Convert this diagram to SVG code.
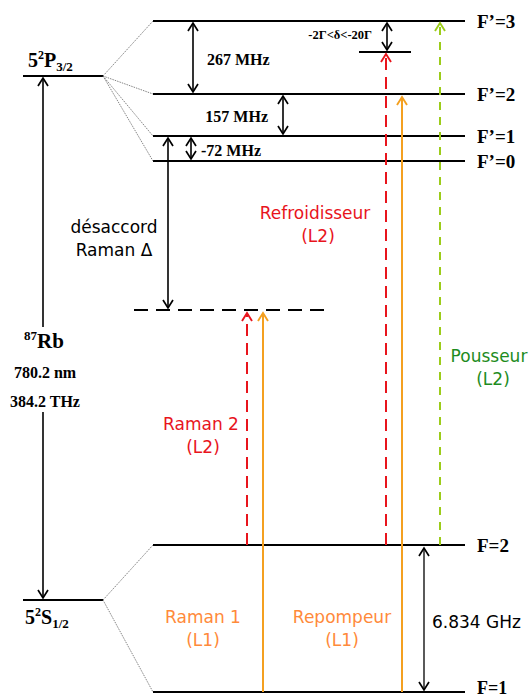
<svg xmlns="http://www.w3.org/2000/svg" width="532" height="699" viewBox="0 0 532 699">
<defs>
<marker id="ahK" viewBox="0 0 12 12" refX="10" refY="6" markerWidth="12" markerHeight="12" markerUnits="userSpaceOnUse" orient="auto-start-reverse">
<path d="M2,1 L10,6 L2,11" fill="none" stroke="#000" stroke-width="1.7"/>
</marker>
<marker id="ahR" viewBox="0 0 12 12" refX="10" refY="6" markerWidth="12" markerHeight="12" markerUnits="userSpaceOnUse" orient="auto">
<path d="M2,1 L10,6 L2,11" fill="none" stroke="#e8141c" stroke-width="1.9"/>
</marker>
<marker id="ahO" viewBox="0 0 12 12" refX="10" refY="6" markerWidth="12" markerHeight="12" markerUnits="userSpaceOnUse" orient="auto">
<path d="M2,1 L10,6 L2,11" fill="none" stroke="#f4a020" stroke-width="1.9"/>
</marker>
<marker id="ahG" viewBox="0 0 12 12" refX="10" refY="6" markerWidth="12" markerHeight="12" markerUnits="userSpaceOnUse" orient="auto">
<path d="M2,1 L10,6 L2,11" fill="none" stroke="#9ccc1a" stroke-width="1.9"/>
</marker>
</defs>
<style>
.lvl{stroke:#000;stroke-width:2;fill:none}
.dot{stroke:#666;stroke-width:0.8;stroke-dasharray:1.5 1;fill:none}
.ser{font-family:"Liberation Serif",serif;font-weight:bold;fill:#000}
.san{font-family:"DejaVu Sans",sans-serif;font-size:17px}
.arr{stroke:#000;stroke-width:1.6;fill:none;marker-start:url(#ahK);marker-end:url(#ahK)}
</style>
<rect width="532" height="699" fill="#fff"/>

<g id="levels">
<g id="lvl-P"><line class="lvl" x1="23" y1="76" x2="103" y2="76"/><text class="ser" x="28" y="67" font-size="20">5<tspan font-size="12" dy="-8">2</tspan><tspan dy="8">P</tspan><tspan font-size="13" dy="4">3/2</tspan></text></g>
<g id="lvl-S"><line class="lvl" x1="23" y1="600" x2="103" y2="600"/><text class="ser" x="25" y="624" font-size="20">5<tspan font-size="12" dy="-8">2</tspan><tspan dy="8">S</tspan><tspan font-size="13" dy="4">1/2</tspan></text></g>
<g id="lvl-F3"><line class="lvl" x1="153" y1="21" x2="465" y2="21"/><text class="ser" x="477" y="28" font-size="19">F’=3</text></g>
<g id="lvl-F2p"><line class="lvl" x1="153" y1="94" x2="465" y2="94"/><text class="ser" x="477" y="101" font-size="19">F’=2</text></g>
<g id="lvl-F1p"><line class="lvl" x1="153" y1="136" x2="465" y2="136"/><text class="ser" x="477" y="143" font-size="19">F’=1</text></g>
<g id="lvl-F0p"><line class="lvl" x1="153" y1="161" x2="465" y2="161"/><text class="ser" x="477" y="168" font-size="19">F’=0</text></g>
<g id="lvl-virtual"><line x1="134" y1="310" x2="330" y2="310" stroke="#000" stroke-width="2" stroke-dasharray="14 8"/></g>
<g id="lvl-F2"><line class="lvl" x1="153" y1="545" x2="465" y2="545"/><text class="ser" x="477" y="552" font-size="19">F=2</text></g>
<g id="lvl-F1"><line class="lvl" x1="153" y1="692" x2="465" y2="692"/><text class="ser" x="477" y="694" font-size="18">F=1</text></g>
<g id="lvl-delta"><line x1="359" y1="52" x2="411" y2="52" stroke="#000" stroke-width="2"/></g>
</g>

<g id="connectors">
<line class="dot" x1="103" y1="76" x2="153" y2="21"/>
<line class="dot" x1="103" y1="76" x2="153" y2="94"/>
<line class="dot" x1="103" y1="76" x2="153" y2="136"/>
<line class="dot" x1="103" y1="76" x2="153" y2="161"/>
<line class="dot" x1="103" y1="600" x2="153" y2="545"/>
<line class="dot" x1="103" y1="600" x2="153" y2="692"/>

<line x1="43" y1="78" x2="43" y2="327" stroke="#000" stroke-width="1.6" marker-start="url(#ahK)"/>
<line x1="43" y1="412" x2="43" y2="598" stroke="#000" stroke-width="1.6" marker-end="url(#ahK)"/>
<line class="arr" x1="193" y1="23" x2="193" y2="92"/>
<line class="arr" x1="283" y1="96" x2="283" y2="134"/>
<line class="arr" x1="191" y1="138" x2="191" y2="159"/>
<line class="arr" x1="168" y1="138" x2="168" y2="308"/>
<line class="arr" x1="387" y1="23" x2="387" y2="50"/>
<line x1="424" y1="548" x2="424" y2="690" stroke="#000" stroke-width="1.3" marker-start="url(#ahK)" marker-end="url(#ahK)"/>

<line x1="386" y1="545" x2="386" y2="54" stroke="#e8141c" stroke-width="2" stroke-dasharray="12 7" marker-end="url(#ahR)"/>
<line x1="402" y1="692" x2="402" y2="97" stroke="#f4a020" stroke-width="2" marker-end="url(#ahO)"/>
<line x1="440" y1="545" x2="440" y2="23" stroke="#9ccc1a" stroke-width="2" stroke-dasharray="8 7" marker-end="url(#ahG)"/>
<line x1="247" y1="545" x2="247" y2="313" stroke="#e8141c" stroke-width="2" stroke-dasharray="12 7" marker-end="url(#ahR)"/>
<line x1="263" y1="692" x2="263" y2="313" stroke="#f4a020" stroke-width="2" marker-end="url(#ahO)"/>
</g>

<g id="labels">
<text class="ser" x="207" y="65" font-size="16">267 MHz</text>
<text class="ser" x="268" y="122" font-size="16" text-anchor="end">157 MHz</text>
<text class="ser" x="201" y="156" font-size="16">-72 MHz</text>
<text class="ser" x="372" y="39" font-size="12.5" text-anchor="end">-2Γ&lt;δ&lt;-20Γ</text>
<text class="ser" x="44" y="348" font-size="21" text-anchor="middle"><tspan font-size="13" dy="-8">87</tspan><tspan dy="8">Rb</tspan></text>
<text class="ser" x="45" y="378" font-size="16" text-anchor="middle">780.2 nm</text>
<text class="ser" x="45" y="407" font-size="16" text-anchor="middle">384.2 THz</text>
<text class="san" x="114" y="233" text-anchor="middle" fill="#000">désaccord</text>
<text class="san" x="114" y="256" text-anchor="middle" fill="#000">Raman Δ</text>
<text class="san" x="315" y="219" text-anchor="middle" fill="#e8141c">Refroidisseur</text>
<text class="san" x="318" y="242" text-anchor="middle" fill="#e8141c">(L2)</text>
<text class="san" x="201" y="430" text-anchor="middle" fill="#e8141c">Raman 2</text>
<text class="san" x="203" y="453" text-anchor="middle" fill="#e8141c">(L2)</text>
<text class="san" x="489" y="362" text-anchor="middle" fill="#1e8c1e">Pousseur</text>
<text class="san" x="493" y="385" text-anchor="middle" fill="#1e8c1e">(L2)</text>
<text class="san" x="203" y="623" text-anchor="middle" fill="#ff8a3a">Raman 1</text>
<text class="san" x="203" y="646" text-anchor="middle" fill="#ff8a3a">(L1)</text>
<text class="san" x="342" y="623" text-anchor="middle" fill="#ff8a3a">Repompeur</text>
<text class="san" x="342" y="646" text-anchor="middle" fill="#ff8a3a">(L1)</text>
<text class="san" x="432" y="628" fill="#000">6.834 GHz</text>
</g>
</svg>
